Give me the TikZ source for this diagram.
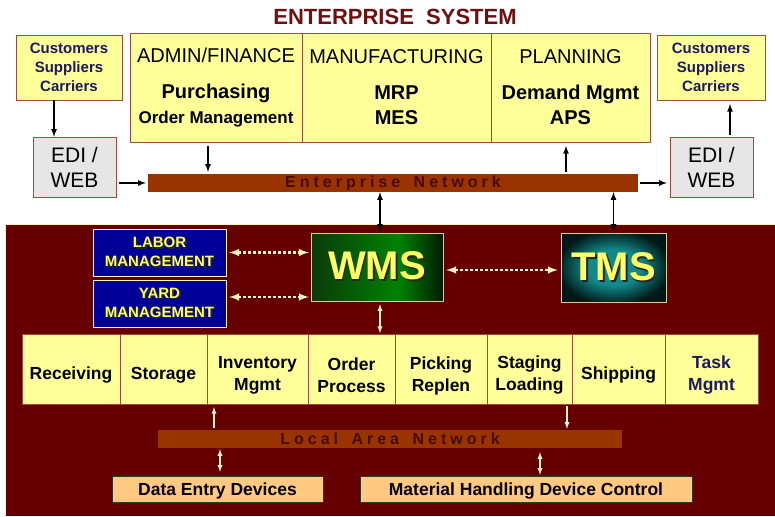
\documentclass[tikz,border=0pt]{standalone}
\usepackage{fontspec}
\setmainfont{Liberation Sans}
\usepackage{xcolor}
\usepackage{tikz}

\definecolor{giallo}{HTML}{FFFF99}
\definecolor{bordo}{HTML}{A04A3C}
\definecolor{grigio}{HTML}{E6E6E6}
\definecolor{rete}{HTML}{993300}
\definecolor{scrittarete}{HTML}{4A0A0A}
\definecolor{amaranto}{HTML}{660000}
\definecolor{titolo}{HTML}{6E1010}
\definecolor{blu}{HTML}{000099}
\definecolor{crema}{HTML}{FFF3C0}
\definecolor{giallino}{HTML}{FFFF66}
\definecolor{arancio}{HTML}{FFC982}
\definecolor{navy}{HTML}{1A1A5E}
\definecolor{verdescuro}{HTML}{0B3A0B}
\definecolor{verde}{HTML}{008200}
\definecolor{verdefondo}{HTML}{021C02}
\definecolor{ottanio}{HTML}{138888}
\definecolor{ottaniofondo}{HTML}{001818}

% sfumature dei riquadri WMS e TMS
\pgfdeclarehorizontalshading{verdewms}{100bp}{color(0bp)=(verdescuro); color(25bp)=(verdescuro);
  color(58bp)=(verde); color(75bp)=(verdefondo); color(100bp)=(verdefondo)}
\pgfdeclareradialshading{ottaniotms}{\pgfpoint{0bp}{0bp}}{color(0bp)=(ottanio); color(13bp)=(ottanio);
  color(27bp)=(ottaniofondo); color(50bp)=(ottaniofondo)}

% testo con ombra scura
\newcommand{\ombra}[1]{\makebox[0pt][l]{\hspace{1.8pt}\raisebox{-1.8pt}{\color{black!85}#1}}#1}
% testo spaziato per le reti
\newcommand{\spaziato}[1]{{\addfontfeature{LetterSpace=25}#1}}

\begin{document}
\begin{tikzpicture}[x=1pt, y=-1pt,
  cella/.style={draw=bordo, fill=giallo, inner sep=0pt, outer sep=0pt, align=center},
  cliente/.style={cella, text=navy, font=\bfseries\fontsize{15}{19}\selectfont},
  edi/.style={draw=bordo, fill=grigio, inner sep=0pt, align=center, font=\fontsize{21}{25}\selectfont},
  modulo/.style={cella, font=\fontsize{20}{25}\selectfont},
  barra/.style={fill=rete, inner sep=0pt, text=scrittarete, font=\bfseries\fontsize{16}{17}\selectfont},
  gestione/.style={draw=crema, fill=blu, inner sep=0pt, align=center, text=giallino, font=\bfseries\fontsize{15}{19}\selectfont},
  sistema/.style={draw=crema!70!olive, inner sep=0pt, text=giallino, font=\bfseries\fontsize{40}{44}\selectfont},
  funzione/.style={cella, minimum height=70pt},
  testofunz/.style={align=center, inner sep=0pt, yshift=-6.5pt, font=\bfseries\fontsize{17.5}{22}\selectfont},
  dispositivo/.style={draw=black!80, fill=arancio, inner sep=0pt, minimum height=26pt, text depth=0pt, font=\bfseries\fontsize{17.5}{20}\selectfont},
  freccia/.style={-latex, line width=1.6pt},
  doppia/.style={latex-latex, line width=1.6pt},
  chiara/.style={latex-latex, line width=1.3pt, draw=crema},
  puntini/.style={latex-latex, line width=2.4pt, draw=crema, dash pattern=on 2.4pt off 2.6pt}
]
\useasboundingbox (0,0) rectangle (775,516);

% Titolo
\node[text=titolo, font=\bfseries\fontsize{22}{24}\selectfont] (titolo) at (395,17) {ENTERPRISE\ \ SYSTEM};

% Clienti, fornitori e vettori
\node[cliente, minimum width=106pt, minimum height=65pt] (cliSx) at (69,67.5) {Customers\\Suppliers\\Carriers};
\node[cliente, minimum width=108pt, minimum height=65pt] (cliDx) at (711,67.5) {Customers\\Suppliers\\Carriers};

% EDI / WEB
\node[edi, minimum width=83pt, minimum height=60pt] (ediSx) at (74.5,167) {EDI /\\WEB};
\node[edi, minimum width=83pt, minimum height=60pt] (ediDx) at (711.5,167) {EDI /\\WEB};

% Moduli del sistema aziendale
\node[modulo, minimum width=172pt, minimum height=109pt] (admin) at (216,87.5)
  {ADMIN/FINANCE\\[11pt]{\bfseries Purchasing}\\{\bfseries\fontsize{17}{25}\selectfont Order Management}};
\node[modulo, minimum width=189pt, minimum height=109pt] (manuf) at (396.5,87.5)
  {MANUFACTURING\\[11pt]{\bfseries MRP}\\{\bfseries MES}};
\node[modulo, minimum width=159pt, minimum height=109pt] (plan) at (570.5,87.5)
  {PLANNING\\[11pt]{\bfseries Demand Mgmt}\\{\bfseries APS}};

% Rete aziendale
\node[barra, minimum width=490pt, minimum height=18pt] (reteAz) at (393,183) {\spaziato{Enterprise\hspace{5pt} Network}};

% Collegamenti della parte alta
\draw[freccia] ([xshift=-15pt]cliSx.south) -- ([xshift=-20.5pt]ediSx.north);
\draw[freccia, shorten <=4pt, shorten >=2pt] ([xshift=-8pt]admin.south) -- ([xshift=-8pt]admin.south |- reteAz.north);
\draw[freccia, shorten <=2pt, shorten >=4pt] ([xshift=-4.5pt]plan.south |- reteAz.north) -- ([xshift=-4.5pt]plan.south);
\draw[freccia, shorten <=3pt, shorten >=2pt] (ediSx.east |- reteAz) -- (reteAz.west);
\draw[freccia, shorten <=2pt, shorten >=3pt] (reteAz.east) -- (ediDx.west |- reteAz);
\draw[freccia, shorten <=2pt, shorten >=4pt] ([xshift=18.5pt]ediDx.north) -- ([xshift=19pt]cliDx.south);

% Area del magazzino
\fill[amaranto] (5,224) rectangle (775,516);
\draw[crema, line width=0.6pt] (5,516) -- (5,224) -- (775,224);

% Gestione personale e piazzale
\node[gestione, minimum width=133pt, minimum height=47pt] (labor) at (159.5,252.5) {\ombra{LABOR}\\\ombra{MANAGEMENT}};
\node[gestione, minimum width=133pt, minimum height=47pt] (yard) at (159.5,303.5) {\ombra{YARD}\\\ombra{MANAGEMENT}};

% WMS e TMS
\node[sistema, shading=verdewms, shading angle=0,
  minimum width=132pt, minimum height=68pt] (wms) at (377,267) {\ombra{WMS}};
\node[sistema, shading=ottaniotms,
  minimum width=105pt, minimum height=69pt] (tms) at (613.5,267.5) {\ombra{TMS}};

% Funzioni del magazzino
\foreach \nome/\cx/\w/\col/\testo in {
  ricev/71/98/black/Receiving,
  stocc/163.5/87/black/Storage,
  invent/257.5/101/black/{Inventory\\Mgmt},
  ordini/351.5/87/black/{Order\\Process},
  picking/441/92/black/{Picking\\Replen},
  staging/529.5/85/black/{Staging\\Loading},
  spediz/618.5/93/black/Shipping,
  task/711.5/93/navy/{Task\\Mgmt}}
{
  \node[funzione, minimum width=\w pt] (\nome) at (\cx,369) {};
  \node[testofunz, text=\col] (\nome-t) at (\nome) {\testo};
}

% Rete locale e dispositivi
\node[barra, minimum width=464pt, minimum height=18pt] (lan) at (390,439) {\spaziato{Local\hspace{5pt} Area\hspace{5pt} Network}};
\node[dispositivo, minimum width=211pt] (dati) at (217.5,489) {Data Entry Devices};
\node[dispositivo, minimum width=332pt] (movim) at (526,489) {Material Handling Device Control};

% Collegamenti verso WMS e TMS
\draw[doppia, shorten <=1pt] ([xshift=3pt]wms.north) -- ([xshift=3pt]wms.north |- reteAz.south);
\draw[doppia, shorten <=1pt] (tms.north) -- (tms.north |- reteAz.south);
\draw[puntini, shorten <=3pt, shorten >=2pt] (labor.east) -- (labor.east -| wms.west);
\draw[puntini, shorten <=3pt, shorten >=2pt] ([yshift=6.5pt]yard.east) -- ([yshift=6.5pt]yard.east -| wms.west);
\draw[puntini, shorten <=3pt, shorten >=3pt] ([yshift=-3pt]wms.east) -- ([yshift=-3pt]wms.east -| tms.west);
\draw[chiara, shorten <=3pt, shorten >=1pt] ([xshift=3pt]wms.south) -- ([xshift=3pt]wms.south |- ordini.north);

% Collegamenti della rete locale
\draw[-latex, line width=1.3pt, draw=crema, shorten <=2pt, shorten >=3pt] ([xshift=-43.5pt]invent.south |- lan.north) -- ([xshift=-43.5pt]invent.south);
\draw[-latex, line width=1.3pt, draw=crema, shorten <=2pt, shorten >=1pt] ([xshift=37.5pt]staging.south) -- ([xshift=37.5pt]staging.south |- lan.north);
\draw[chiara, shorten <=4pt, shorten >=1pt] ([xshift=2.5pt]dati.north) -- ([xshift=2.5pt]dati.north |- lan.south);
\draw[chiara, shorten <=1pt, shorten >=4pt] ([xshift=14pt]movim.north) -- ([xshift=14pt]movim.north |- lan.south);

\end{tikzpicture}
\end{document}
